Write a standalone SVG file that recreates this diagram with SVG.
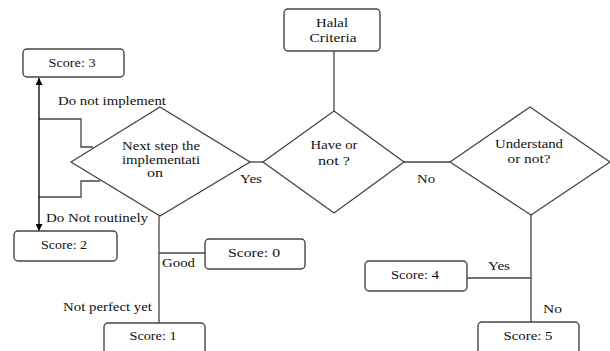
<svg xmlns="http://www.w3.org/2000/svg" width="610" height="351" viewBox="0 0 610 351">
<style>
.box{fill:#fff;stroke:#444;stroke-width:1.4}
.dia{fill:#fff;stroke:#444;stroke-width:1.3}
.ln{fill:none;stroke:#444;stroke-width:1.3}
.arr{fill:none;stroke:#000;stroke-width:1.3}
.t{font-size:12px;fill:#111}
.c{text-anchor:middle}
</style>
<defs>
<marker id="ah" viewBox="0 0 10 10" refX="10" refY="5" markerWidth="7" markerHeight="7" orient="auto-start-reverse" markerUnits="userSpaceOnUse">
<path d="M0,0 L10,5 L0,10 z" fill="#000"/>
</marker>
</defs>
<rect width="610" height="351" fill="#fff"/>
<g font-family="Liberation Serif, DejaVu Serif, Times New Roman, serif" class="t">
<g id="connectors">
<line class="ln" x1="334" y1="51" x2="334" y2="111"/>
<line class="ln" x1="250" y1="162" x2="263" y2="162"/>
<line class="ln" x1="404" y1="162" x2="450" y2="162"/>
<line class="ln" x1="531" y1="215" x2="531" y2="322"/>
<line class="ln" x1="467" y1="278" x2="531" y2="278"/>
<line class="ln" x1="159" y1="216" x2="159" y2="323"/>
<line class="ln" x1="159" y1="253" x2="205" y2="253"/>
<polyline class="ln" points="39,119 81,119 81,147 93,147"/>
<polyline class="ln" points="100,181 81,181 81,197 39,197"/>
<line class="arr" x1="39" y1="155" x2="39" y2="78" marker-end="url(#ah)"/>
<line class="arr" x1="39" y1="155" x2="39" y2="231" marker-end="url(#ah)"/>
<text x="58" y="105" textLength="108" lengthAdjust="spacingAndGlyphs">Do not implement</text>
<text x="46" y="222" textLength="102" lengthAdjust="spacingAndGlyphs">Do Not routinely</text>
<text x="63" y="311" textLength="89" lengthAdjust="spacingAndGlyphs">Not perfect yet</text>
<text x="162" y="267" textLength="33" lengthAdjust="spacingAndGlyphs">Good</text>
<text x="240" y="183" textLength="22" lengthAdjust="spacingAndGlyphs">Yes</text>
<text x="417" y="183" textLength="18" lengthAdjust="spacingAndGlyphs">No</text>
<text x="488" y="270" textLength="22" lengthAdjust="spacingAndGlyphs">Yes</text>
<text x="543" y="313" textLength="19" lengthAdjust="spacingAndGlyphs">No</text>
</g>
<g id="halal">
<rect class="box" x="284" y="9" width="96" height="42" rx="4"/>
<text class="c" x="332" y="27" textLength="32" lengthAdjust="spacingAndGlyphs">Halal</text>
<text class="c" x="333" y="42" textLength="47" lengthAdjust="spacingAndGlyphs">Criteria</text>
</g>
<g id="have">
<polygon class="dia" points="263,162 334,111 404,162 334,213"/>
<text class="c" x="334" y="149" textLength="47" lengthAdjust="spacingAndGlyphs">Have or</text>
<text class="c" x="334" y="165" textLength="32" lengthAdjust="spacingAndGlyphs">not ?</text>
</g>
<g id="next">
<polygon class="dia" points="71,162 160,107 250,162 160,216"/>
<text class="c" x="161" y="150" textLength="78" lengthAdjust="spacingAndGlyphs">Next step the</text>
<text class="c" x="161" y="164" textLength="78" lengthAdjust="spacingAndGlyphs">implementati</text>
<text class="c" x="155" y="177" textLength="16" lengthAdjust="spacingAndGlyphs">on</text>
</g>
<g id="understand">
<polygon class="dia" points="450,162 530,107 610,162 531,215"/>
<text class="c" x="529" y="148" textLength="68" lengthAdjust="spacingAndGlyphs">Understand</text>
<text class="c" x="529" y="163" textLength="43" lengthAdjust="spacingAndGlyphs">or not?</text>
</g>
<g id="score3">
<rect class="box" x="23" y="49" width="101" height="28" rx="4"/>
<text class="c" x="72" y="67" textLength="47" lengthAdjust="spacingAndGlyphs">Score: 3</text>
</g>
<g id="score2">
<rect class="box" x="14" y="231" width="103" height="30" rx="4"/>
<text class="c" x="64" y="249" textLength="46" lengthAdjust="spacingAndGlyphs">Score: 2</text>
</g>
<g id="score0">
<rect class="box" x="205" y="239" width="100" height="30" rx="4"/>
<text class="c" x="254" y="257" textLength="52" lengthAdjust="spacingAndGlyphs">Score:  0</text>
</g>
<g id="score1">
<rect class="box" x="104" y="323" width="101" height="40" rx="4"/>
<text class="c" x="153" y="340" textLength="47" lengthAdjust="spacingAndGlyphs">Score: 1</text>
</g>
<g id="score4">
<rect class="box" x="365" y="261" width="102" height="30" rx="4"/>
<text class="c" x="415" y="279" textLength="48" lengthAdjust="spacingAndGlyphs">Score: 4</text>
</g>
<g id="score5">
<rect class="box" x="478" y="322" width="101" height="40" rx="4"/>
<text class="c" x="528" y="340" textLength="49" lengthAdjust="spacingAndGlyphs">Score: 5</text>
</g>
</g>
</svg>
